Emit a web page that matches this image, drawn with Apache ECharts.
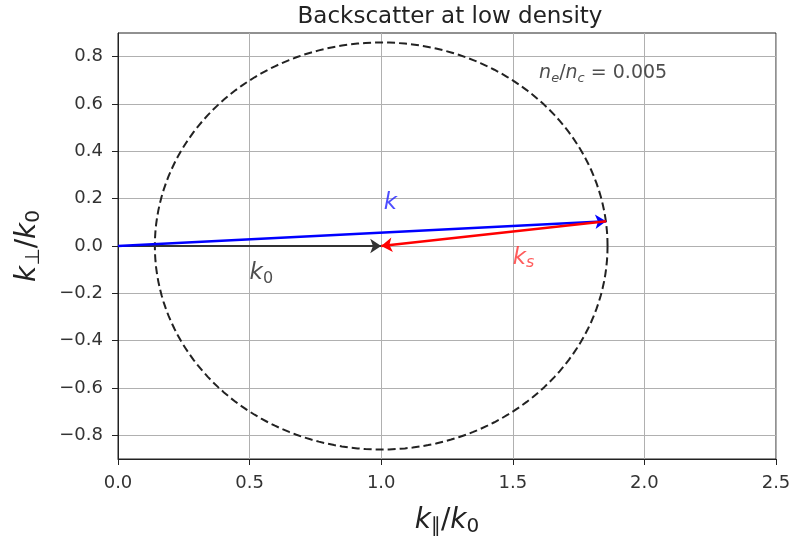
<!DOCTYPE html>
<html>
<head>
<meta charset="utf-8">
<script src="https://cdn.jsdelivr.net/npm/echarts@6/dist/echarts.min.js"></script>
<style>
  html, body { margin: 0; padding: 0; background: #fff; }
  #main { width: 794px; height: 542px; }
</style>
</head>
<body>
<div id="main"></div>
<script>
var xTicks = [0.0, 0.5, 1.0, 1.5, 2.0, 2.5];
var yTicks = [-0.8, -0.6, -0.4, -0.2, 0.0, 0.2, 0.4, 0.6, 0.8];

// wave vectors (k_par, k_perp)
var k0Vec = [[0, 0], [1.0, 0]];
var kVec = [[0, 0], [1.855, 0.105]];
var ksVec = [[1.855, 0.105], [1.0, 0]];

// resonance circle
var circleCenter = [1.0, 0];
var circleRadius = 0.86;
var circleSteps = 180;

var circlePts = [];
for (var i = 0; i <= circleSteps; i++) {
    var a = 2 * Math.PI * i / circleSteps;
    circlePts.push([circleCenter[0] + circleRadius * Math.cos(a),
                    circleCenter[1] + circleRadius * Math.sin(a)]);
}

var FONT = 'DejaVu Sans';

function fmt(v) {
    var s = Math.abs(v) < 1e-9 ? '0.0' : v.toFixed(1);
    return s.replace('-', '\u2212');
}

// k = italic, t = upright, s = upright subscript, i = italic subscript
function subRich(size, color) {
    var sub = Math.round(size * 0.7);
    var subLh = Math.round(size * 0.55);
    return {
        k: { fontFamily: FONT, fontStyle: 'italic', fontSize: size, color: color, lineHeight: size + 4 },
        t: { fontFamily: FONT, fontSize: size, color: color, lineHeight: size + 4 },
        s: { fontFamily: FONT, fontSize: sub, color: color, lineHeight: subLh, verticalAlign: 'bottom' },
        i: { fontFamily: FONT, fontStyle: 'italic', fontSize: sub, color: color, lineHeight: subLh, verticalAlign: 'bottom' }
    };
}

var chart = echarts.init(document.getElementById('main'), null, { renderer: 'canvas' });

var option = {
    animation: false,
    backgroundColor: '#fff',
    title: {
        text: 'Backscatter at low density',
        left: 445,
        textAlign: 'center',
        top: 1,
        textStyle: { fontFamily: FONT, fontSize: 23, fontWeight: 'normal', color: '#222' }
    },
    grid: {
        left: 118, right: 18, top: 33, bottom: 82,
        show: true, borderColor: '#222', borderWidth: 1
    },
    xAxis: {
        type: 'value',
        min: xTicks[0], max: xTicks[xTicks.length - 1], interval: 0.5,
        name: '{k|k}{s|\u2225}{t|/}{k|k}{s|0}',
        nameLocation: 'middle',
        nameGap: 46,
        nameTextStyle: { rich: subRich(28, '#222') },
        axisLine: { show: true, onZero: false, lineStyle: { color: '#222' } },
        axisTick: { show: true, length: 6, lineStyle: { color: '#222' } },
        axisLabel: { fontFamily: FONT, fontSize: 18, color: '#333', margin: 15, formatter: fmt },
        splitLine: { show: true, lineStyle: { color: '#b0b0b0', width: 1 } }
    },
    yAxis: {
        type: 'value',
        min: -0.9, max: 0.9,
        name: '{k|k}{s|\u22a5}{t|/}{k|k}{s|0}',
        nameLocation: 'middle',
        nameGap: 74,
        nameTextStyle: { rich: subRich(28, '#222') },
        axisLine: { show: true, onZero: false, lineStyle: { color: '#222' } },
        axisTick: { show: true, length: 6, customValues: yTicks, lineStyle: { color: '#222' } },
        axisLabel: { fontFamily: FONT, fontSize: 18, color: '#333', margin: 15, customValues: yTicks, formatter: fmt },
        splitLine: { show: true, lineStyle: { color: '#b0b0b0', width: 1 } }
    },
    series: [
        {
            type: 'line',
            data: circlePts,
            showSymbol: false,
            smooth: false,
            lineStyle: { color: '#222', width: 2, type: [8, 4] },
            z: 3
        },
        {
            type: 'lines',
            coordinateSystem: 'cartesian2d',
            symbol: ['none', 'arrow'],
            symbolSize: 11,
            z: 4,
            lineStyle: { opacity: 1, width: 2 },
            data: [
                { coords: k0Vec, lineStyle: { color: '#333', width: 2, opacity: 1 } },
                { coords: kVec, lineStyle: { color: '#0000ff', width: 2.5, opacity: 1 } },
                { coords: ksVec, lineStyle: { color: '#ff0000', width: 2.5, opacity: 1 } }
            ]
        },
        {
            type: 'scatter',
            symbolSize: 0,
            z: 5,
            silent: true,
            data: [
                { value: [1.01, 0.18], label: { formatter: '{k|k}', rich: subRich(23, '#2222ff') } },
                { value: [0.5, -0.115], label: { formatter: '{k|k}{s|0}', rich: subRich(23, '#222') } },
                { value: [1.5, -0.05], label: { formatter: '{k|k}{i|s}', rich: subRich(23, '#ff3333') } },
                { value: [1.6, 0.73], label: { formatter: '{k|n}{i|e}{t|/}{k|n}{i|c}{t| = 0.005}', rich: subRich(19, '#222') } }
            ],
            label: { show: true, position: 'right', distance: 0 }
        }
    ]
};

chart.setOption(option);
window.addEventListener('resize', chart.resize);
</script>
</body>
</html>
